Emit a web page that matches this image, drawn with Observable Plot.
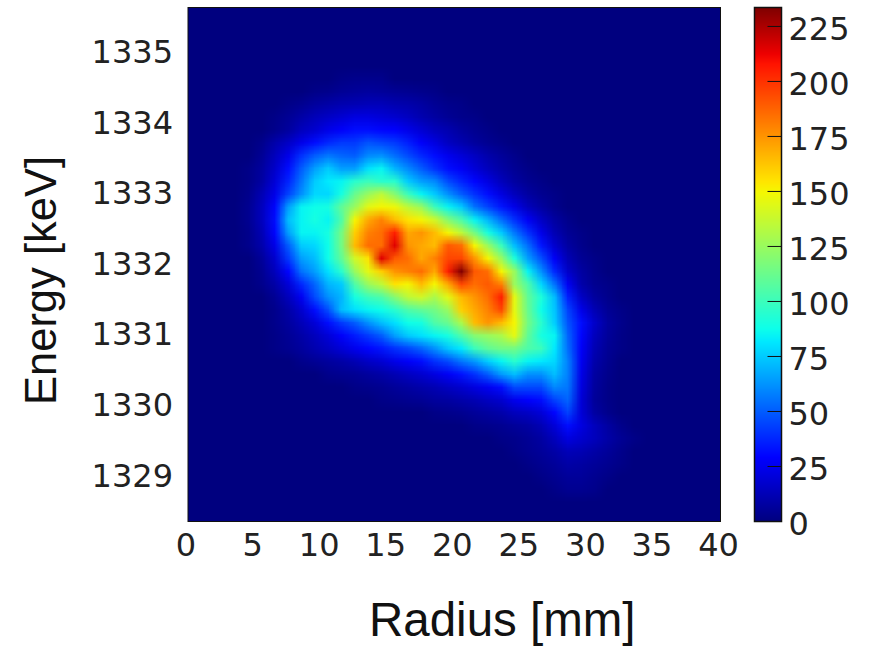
<!DOCTYPE html>
<html><head><meta charset="utf-8">
<style>html,body{margin:0;padding:0;background:#fff}#c{position:relative;width:870px;height:649px;overflow:hidden}#c svg{position:absolute;top:0;overflow:visible;background:none}</style>
<script src="https://cdn.jsdelivr.net/npm/d3@7"></script>
<script src="https://cdn.jsdelivr.net/npm/@observablehq/plot@0.6"></script>
</head><body><div id="c"></div>
<script>
const radiusTicks=[0,5,10,15,20,25,30,35,40];
const energyTicks=[1329,1330,1331,1332,1333,1334,1335];
const colorTicks=[0,25,50,75,100,125,150,175,200,225];
const radiusDomain=[0,40];
const energyDomain=[1328.36,1335.64];
const colorDomain=[0,233.6];
const jetStops=[0,0.11,0.125,0.35,0.375,0.64,0.66,0.89,0.91,1];
const jetColors=["#00007f","#0000f1","#0000ff","#00e9ff","#0dffea","#f4f802","#ffe600","#ff1300","#ed0000","#7f0000"];
const nCols=40,nRows=40;
// Counts per row, top to bottom: first column of the row, then that column's values onward
const rowFirstColumn=[0,0,0,0,0,11,9,7,6,6,5,5,4,4,4,4,4,4,4,5,5,5,6,6,6,6,6,8,10,12,14,18,21,23,24,25,26,27,0,0];
const rowCounts=[
[],[],[],[],[],
[2,3,3,3],
[2,3,5,6,7,6,5,4,3,2],
[2,4,7,9,11,12,13,13,11,10,8,5,3,2],
[2,5,9,13,16,19,22,22,20,18,15,11,8,5,3,2],
[3,7,14,18,24,28,32,32,30,29,24,19,14,11,7,4,2],
[3,10,16,24,32,38,42,42,48,45,42,36,28,22,15,11,7,4,2],
[5,14,24,40,50,56,52,50,60,62,54,46,38,32,25,20,15,10,6,3],
[2,7,17,32,50,65,75,65,65,80,85,70,60,50,40,32,27,20,14,9,5,2],
[2,8,20,37,56,75,82,85,95,100,95,95,75,65,60,46,37,30,22,14,8,4,2],
[3,12,24,44,62,78,78,90,112,125,135,120,100,85,75,62,50,40,32,22,14,8,4,2],
[4,14,30,65,85,88,90,110,125,145,150,148,135,125,100,85,75,55,44,34,24,14,8,3],
[4,14,32,72,85,90,85,105,150,170,180,165,155,150,140,120,105,85,70,54,40,27,16,8,3],
[3,12,30,65,85,85,90,115,160,180,185,205,170,175,165,150,135,115,90,75,56,40,24,12,5,2],
[3,10,24,50,75,78,88,115,165,185,185,215,175,170,165,190,185,150,125,100,72,54,34,18,8,3],
[6,18,42,65,72,88,110,140,155,215,190,185,170,180,195,195,175,150,125,92,65,47,27,12,5,2],
[4,14,30,55,65,80,95,125,145,160,175,180,185,170,205,233,190,185,150,125,85,62,38,17,8,3],
[3,9,20,38,52,70,75,105,125,135,155,150,165,150,170,195,185,190,180,125,105,78,55,26,10,4,2],
[5,14,26,46,62,70,90,100,105,120,135,140,130,145,165,175,185,205,145,110,92,72,36,16,7,3],
[3,9,18,32,47,72,80,85,88,95,105,110,115,125,160,170,180,195,145,112,88,74,44,24,12,5,2],
[3,7,13,20,32,42,50,62,72,80,88,90,105,112,130,165,175,165,150,115,95,76,48,32,17,7,3],
[2,5,9,14,20,28,35,42,50,65,75,80,85,90,105,120,125,130,145,110,90,85,52,30,14,6,2],
[2,4,7,11,15,20,25,30,34,40,45,52,62,74,82,100,110,115,115,105,100,82,54,28,12,5,2],
[3,5,7,9,12,16,19,24,28,32,40,46,56,64,76,85,95,85,82,78,58,26,10,4],
[3,4,5,7,9,12,15,18,22,27,33,40,50,64,72,62,62,72,58,24,8,3],
[2,3,4,6,8,10,12,15,18,22,26,32,46,46,46,60,56,22,7,2],
[2,3,4,5,7,8,10,12,15,18,25,29,32,44,52,20,6,2],
[2,3,4,6,8,10,14,16,20,30,44,20,8,3],
[2,3,4,6,8,12,20,32,22,14,8,3],
[2,3,5,8,14,22,18,14,9,5,2],
[2,4,6,9,13,12,9,6,3],
[2,4,6,9,8,6,4,2],
[2,4,6,6,4,2],
[2,4,4,3],
[]
];
const counts=new Array(nCols*nRows).fill(0);
rowCounts.forEach((vals,r)=>vals.forEach((v,k)=>{counts[r*nCols+rowFirstColumn[r]+k]=v;}));
const colorOpt={type:"linear",domain:jetStops.map(s=>s*colorDomain[1]),range:jetColors,clamp:true};
const textColor="#222";
const tickFont="'DejaVu Sans',sans-serif";
const labelFont="'Liberation Sans',Arial,sans-serif";
const main=Plot.plot({
  width:870,height:649,marginLeft:187.5,marginRight:150,marginTop:7,marginBottom:128,
  style:{background:"transparent",overflow:"visible"},
  x:{domain:radiusDomain},y:{domain:energyDomain},color:colorOpt,
  marks:[
    Plot.raster(counts,{width:nCols,height:nRows,x1:radiusDomain[0],x2:radiusDomain[1],y1:energyDomain[1],y2:energyDomain[0],fill:d=>d,imageRendering:"auto"}),
    Plot.frame({stroke:"#111",strokeWidth:1}),
    Plot.axisX(radiusTicks,{label:null,tickSize:0,tickPadding:12,dx:-2,fontSize:32,fontFamily:tickFont,color:textColor}),
    Plot.axisY(energyTicks,{label:null,tickSize:0,tickPadding:15,fontSize:32,tickFormat:d=>String(d),fontFamily:tickFont,color:textColor}),
    Plot.text(["Radius [mm]"],{frameAnchor:"bottom",dx:48,dy:114,fontSize:47.5,fontFamily:labelFont,fill:"#111"}),
    Plot.text(["Energy [keV]"],{frameAnchor:"left",dx:-146,dy:16,rotate:-90,textAnchor:"middle",fontSize:43.5,fontFamily:labelFont,fill:"#111"})
  ]
});
const bar=Plot.plot({
  width:116,height:649,marginLeft:0,marginRight:89,marginTop:7,marginBottom:128,
  style:{background:"transparent",overflow:"visible"},
  x:{domain:[0,1],axis:null},y:{domain:colorDomain,axis:null},color:colorOpt,
  marks:[
    Plot.raster({x1:0,x2:1,y1:colorDomain[0],y2:colorDomain[1],fill:(x,y)=>y,pixelSize:1}),
    Plot.ruleY(colorTicks,{x1:0.5,x2:1,stroke:"#111",strokeWidth:1}),
    Plot.frame({stroke:"#111",strokeWidth:1.5}),
    Plot.axisY(colorTicks,{anchor:"right",label:null,tickSize:0,tickPadding:7,dy:3,fontSize:32,fontFamily:tickFont,color:textColor})
  ]
});
bar.style.left="754px";
const c=document.getElementById("c");c.append(main,bar);
</script></body></html>
